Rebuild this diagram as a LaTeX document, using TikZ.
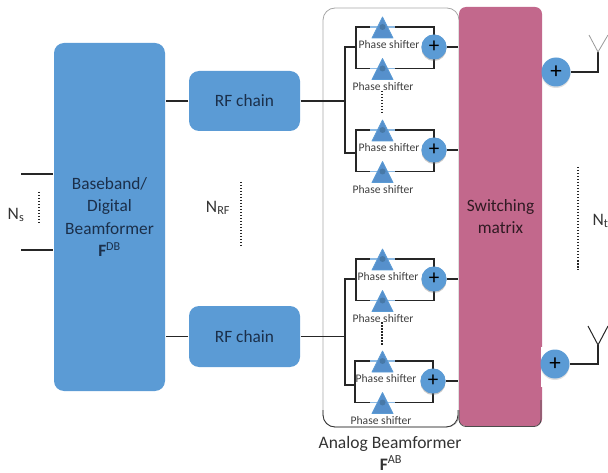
\documentclass[tikz,border=0pt]{standalone}
\usepackage{fontspec}
\setmainfont{Carlito}
\usetikzlibrary{shadows}
\definecolor{boxblue}{HTML}{5B9BD5}
\definecolor{tridark}{HTML}{5690CC}
\definecolor{matrixpink}{HTML}{C2688C}
\definecolor{boxtext}{HTML}{1B2F4A}
\begin{document}
\begin{tikzpicture}[x=1pt, y=-1pt, line width=1.3pt, draw=black!85,
	block/.style = {fill=boxblue, rounded corners=10pt, text=boxtext, align=center, font=\fontsize{17.3}{22.5}\selectfont, inner sep=0pt},
	sum/.style = {circle, fill=boxblue, minimum size=25pt, inner sep=0pt, font=\fontsize{21}{21}\selectfont, drop shadow={opacity=.25, shadow xshift=0pt, shadow yshift=-1.5pt}},
	bigsum/.style = {sum, minimum size=29pt, font=\fontsize{23}{23}\selectfont},
	shifter/.style = {font=\fontsize{11.6}{12}\selectfont, text=black!75, inner sep=0pt},
	label/.style = {font=\fontsize{17.5}{20}\selectfont, text=black!80, inner sep=0pt, align=center},
	dots/.style = {dash pattern=on 1.5pt off 1.5pt, line width=1.3pt},
	tri/.style = {fill=tridark, draw=boxblue, line width=.8pt, line join=round},
	stub/.style = {draw=boxblue!70, line width=1.2pt},
	knob/.style = {circle, fill=black!25!boxblue, minimum size=6pt, inner sep=0pt, opacity=.8}]
	\useasboundingbox (0,0) rectangle (608,473);

	% left side
	\node[block, minimum width=111pt, minimum height=348pt] (dbf) at (109.5,217) {Baseband/\\Digital\\Beamformer\\{\bfseries F}\textsuperscript{DB}};
	\node[block, minimum width=111pt, minimum height=60pt] (rf1) at (244.5,101) {RF chain};
	\node[block, minimum width=111pt, minimum height=61pt] (rf2) at (244.5,336.5) {RF chain};
	\coordinate (ns1) at (21,174);
	\coordinate (ns2) at (21,250);
	\draw (ns1) -- (ns1 -| dbf.west);
	\draw (ns2) -- (ns2 -| dbf.west);
	\draw (rf1.west) -- (rf1.west -| dbf.east);
	\draw (rf2.west) -- (rf2.west -| dbf.east);
	\node[label] (ns) at (16,215) {N\textsubscript{s}};
	\node[label] (nrf) at (218,208) {N\textsubscript{RF}};
	\coordinate (d1) at (39,192);
	\coordinate (d2) at (39,225);
	\coordinate (d3) at (241,182);
	\coordinate (d4) at (241,246);
	\draw[dots] (d1) -- (d2);
	\draw[dots] (d3) -- (d4);

	% analog part
	\draw[draw=black!35, line width=.8pt, rounded corners=12pt] (323,427) rectangle (459,8);
	\draw[line width=.8pt, black!80, rounded corners=12pt] (323,410) -- (323,427) -- (458,427) -- (458,410);
	\node[fill=matrixpink, rounded corners=7pt, minimum width=83pt, minimum height=419pt, inner sep=0pt, text=black!75!matrixpink, align=center, font=\fontsize{17.3}{22}\selectfont] (sw) at (500.5,216.5) {Switching\\matrix};
	\draw[line width=.8pt, black!70, rounded corners=7pt] (459,410) -- (459,426.5) -- (541,426.5) -- (541,400);
	\fill[white] (540.5,347) rectangle (543,387);
	\node[label] (ana) at (390,444) {Analog Beamformer};
	\node[label] (fab) at (391,463) {{\bfseries F}\textsuperscript{AB}};

	% the four branches: number/left/top/feed/sum x/sum y/text x/text y/lower text x
	\foreach \g/\xl/\yt/\yf/\sx/\sy/\tx/\ty/\lx in {
		1/356/27/47/434/47/389/45/383,
		2/356/130/153/434/150/389/148/383,
		3/356/259/279/434/279/388/277/383,
		4/355/361/385/433/381/386/379/381} {
		\coordinate (in\g) at (\xl,\yf);
		\coordinate (up\g) at (382.5,\yt);
		\coordinate (lo\g) at (382.5,\yt+41.5);
		\node[sum] (s\g) at (\sx,\sy) {};
		\draw (s\g.center) |- (up\g) -| (in\g) |- (lo\g) -| (s\g.center);
		\draw (s\g.east) -- (s\g.east -| sw.west);
		\foreach \k in {up,lo} {
			\draw[stub] (\k\g) ++(-12.5,0) -- ++(25,0);
			\draw[tri] (\k\g) ++(0,-10) -- ++(10.5,21) -- ++(-21,0) -- cycle;
			\node[knob] (k\k\g) at (\k\g) {};
		}
		\node[shifter] (pa\g) at (\tx,\ty) {Phase shifter};
		\node[shifter] (pb\g) at (\lx,\ty+42) {Phase shifter};
		\node[sum] (t\g) at (\sx,\sy) {+};
	}
	\coordinate (j1) at (345,101);
	\coordinate (j2) at (345,336.5);
	\draw (rf1.east) -- (j1);
	\draw (in1) -- (in1 -| j1) -- (in2 -| j1) -- (in2);
	\draw (rf2.east) -- (j2);
	\draw (in3) -- (in3 -| j2) -- (in4 -| j2) -- (in4);
	\coordinate (g1) at (382,91);
	\coordinate (g2) at (382,115);
	\coordinate (g3) at (382,322);
	\coordinate (g4) at (382,346);
	\draw[dots] (g1) -- (g2);
	\draw[dots] (g3) -- (g4);

	% antennas
	\node[bigsum] (out1) at (556,72) {+};
	\node[bigsum] (out2) at (555,364) {+};
	\coordinate (a1) at (598,52);
	\coordinate (a1l) at (589,35);
	\coordinate (a1r) at (608,35);
	\coordinate (a2) at (598,345);
	\coordinate (a2l) at (588,326);
	\coordinate (a2r) at (608,326);
	\draw (out1.east) -| (a1);
	\draw (out2.east) -| (a2);
	\draw[black!40, line width=.8pt] (a1l) -- (a1) -- (a1r);
	\draw[line width=1pt] (a2l) -- (a2) -- (a2r);
	\coordinate (d5) at (578,167);
	\coordinate (d6) at (578,270);
	\draw[dots] (d5) -- (d6);
	\node[label, anchor=west] (nt) at (592,221) {N\textsubscript{t}};
\end{tikzpicture}
\end{document}
